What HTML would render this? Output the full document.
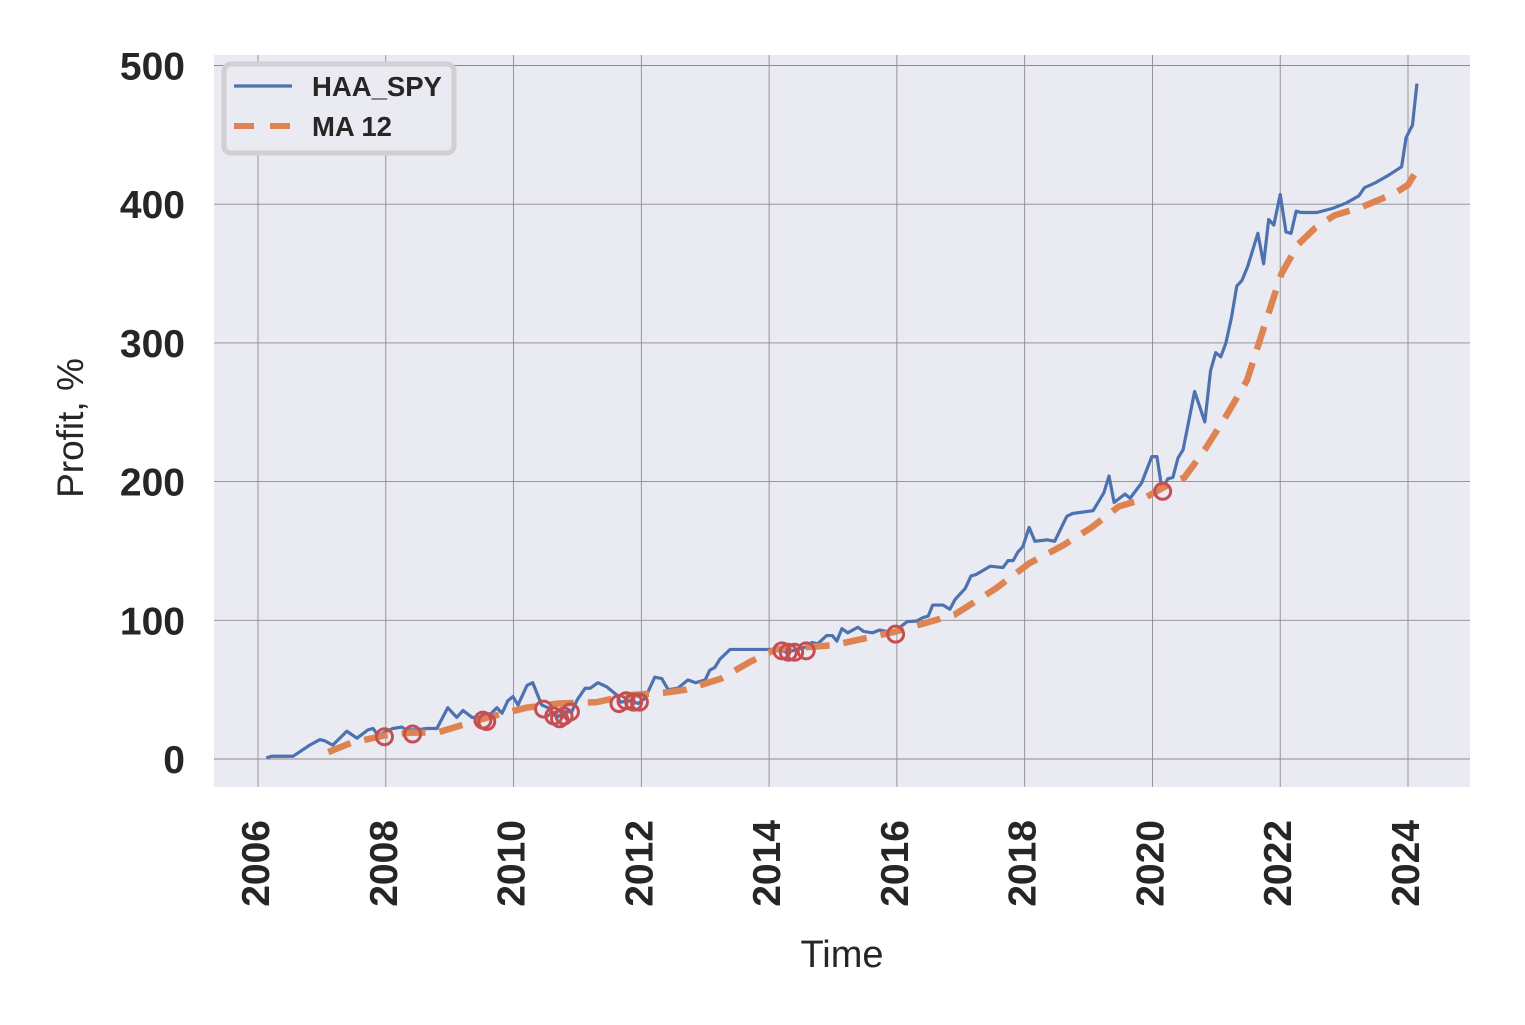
<!DOCTYPE html>
<html><head><meta charset="utf-8"><style>
html,body{margin:0;padding:0;background:#fff;}
svg{display:block;font-family:"Liberation Sans",Arial,sans-serif;}
</style></head><body>
<svg id="chart" width="1525" height="1025" viewBox="0 0 1525 1025">
<rect x="214" y="55" width="1256" height="732" fill="#eaeaf2"/>
<g id="grid"></g>
<g id="series"></g>
<g id="axes"></g>
<text x="83" y="428" font-size="37" fill="#262626" text-anchor="middle" transform="rotate(-90 83 428)">Profit, %</text>
<text x="842" y="967" font-size="38" fill="#262626" text-anchor="middle">Time</text>
<g>
<rect x="224" y="64" width="230" height="89" rx="7" fill="#eaeaf2" stroke="#d0d0d0" stroke-width="5"/>
<line x1="234" y1="86" x2="292" y2="86" stroke="#4c72b0" stroke-width="3.2"/>
<text x="312" y="96" font-size="27.5" font-weight="bold" fill="#262626">HAA_SPY</text>
<line x1="234" y1="126" x2="292" y2="126" stroke="#dd8452" stroke-width="6" stroke-dasharray="20 16"/>
<text x="312" y="136" font-size="27.5" font-weight="bold" fill="#262626">MA 12</text>
</g>
</svg>
<script>
const yTicks=[0,100,200,300,400,500];
const xTicks=[2006,2008,2010,2012,2014,2016,2018,2020,2022,2024];
const haaYears=[2006.13,2006.21,2006.55,2006.81,2006.97,2007.05,2007.17,2007.39,2007.55,2007.72,2007.8,2007.88,2008.11,2008.25,2008.33,2008.49,2008.64,2008.8,2008.97,2009.11,2009.21,2009.35,2009.52,2009.63,2009.74,2009.82,2009.91,2009.99,2010.07,2010.21,2010.3,2010.44,2010.54,2010.68,2010.8,2010.91,2011.0,2011.12,2011.2,2011.32,2011.46,2011.62,2011.67,2011.82,2011.95,2012.06,2012.21,2012.32,2012.42,2012.57,2012.73,2012.85,2013.0,2013.07,2013.15,2013.23,2013.39,2013.47,2014.12,2014.28,2014.59,2014.67,2014.76,2014.9,2014.99,2015.06,2015.14,2015.23,2015.39,2015.48,2015.62,2015.73,2015.94,2016.16,2016.31,2016.41,2016.49,2016.56,2016.72,2016.83,2016.91,2017.07,2017.16,2017.24,2017.46,2017.66,2017.74,2017.82,2017.89,2017.97,2018.07,2018.16,2018.35,2018.47,2018.66,2018.75,2019.07,2019.15,2019.24,2019.32,2019.4,2019.57,2019.65,2019.83,2019.99,2020.07,2020.15,2020.24,2020.32,2020.4,2020.48,2020.66,2020.82,2020.91,2020.99,2021.07,2021.15,2021.24,2021.32,2021.4,2021.49,2021.65,2021.74,2021.82,2021.9,2022.0,2022.09,2022.17,2022.25,2022.33,2022.57,2022.82,2023.04,2023.23,2023.32,2023.42,2023.51,2023.7,2023.9,2023.97,2024.07,2024.14];
const haaValues=[0.7,2,2,10,14,13,10,20,15,21,22,17,22,23,21,21,22,22,37,30,35,30,30,32,37,33,42,45,39,53,55,39,37,30,34,34,43,51,51,55,52,46,41,42,40,44,59,58,50,51,57,55,57,64,66,72,79,79,79,77,81,84,83,89,89,85,94,91,95,92,91,93,91,99,99.5,102,103,111,111,108,115,123,132,133,139,138,143,143,149,153,167,157,158,157,175,177,179,185,192,204,185,191,188,199,218,218,194,202,203,217,223,265,243,280,293,290,300,319,341,345,355,379,357,389,385,407,380,379,395,394,394,397,401,406,412,414,416,421,427,448,457,487];
const maYears=[2007.1,2007.45,2007.98,2008.4,2008.8,2009.6,2010.2,2010.7,2011.3,2011.8,2012.4,2012.7,2013.25,2013.7,2014.1,2015.0,2015.95,2016.9,2017.55,2018.07,2018.6,2019.05,2019.47,2019.83,2020.3,2020.5,2020.82,2021.15,2021.48,2021.8,2022.02,2022.28,2022.55,2022.85,2023.28,2023.8,2024.0,2024.2];
const maValues=[5,11.5,17,19,19,30,37,40,41,46,48,50,58,70,79,82,91.5,104,123,141,154,167,182,187,199,203,223,247,273,319,350,371,383,392,398,408,414,429];
const signalYears=[2007.98,2008.42,2009.52,2009.58,2010.47,2010.63,2010.72,2010.79,2010.89,2011.65,2011.76,2011.88,2011.97,2014.2,2014.3,2014.4,2014.58,2015.98,2020.16];
const signalValues=[16,18,28,27,36,31,29,31,34,40,42,41,41,78,77,77,78,90,193];

const NS="http://www.w3.org/2000/svg";
const X=y=>258+(y-2006)*(1150/18);
const Y=v=>759-v*1.387;
function mk(tag,attrs,parent){const e=document.createElementNS(NS,tag);for(const k in attrs)e.setAttribute(k,attrs[k]);parent.appendChild(e);return e;}
const grid=document.getElementById('grid'),axes=document.getElementById('axes'),series=document.getElementById('series');
yTicks.forEach(t=>{
  const l=mk('line',{x1:214,x2:1470,y1:Y(t),y2:Y(t),stroke:'#8c8c8c','stroke-width':0.9},grid);
  
  
  const tx=mk('text',{x:185,y:Y(t)+14,'font-size':39,'font-weight':'bold',fill:'#262626','text-anchor':'end'},axes);
  tx.textContent=t;
  
  
});
xTicks.forEach(t=>{
  const l=mk('line',{x1:X(t),x2:X(t),y1:55,y2:787,stroke:'#8c8c8c','stroke-width':0.9},grid);
  
  
  const xx=X(t)+11;
  const tx=mk('text',{x:xx,y:820,'font-size':39,'font-weight':'bold',fill:'#262626','text-anchor':'end',transform:`rotate(-90 ${xx} 820)`},axes);
  tx.textContent=t;
  
  
});
const hp=mk('polyline',{points:haaYears.map((y,i)=>X(y)+','+Y(haaValues[i])).join(' '),fill:'none',stroke:'#4c72b0','stroke-width':3.2,'stroke-linejoin':'round'},series);


const mp=mk('polyline',{points:maYears.map((y,i)=>X(y)+','+Y(maValues[i])).join(' '),fill:'none',stroke:'#dd8452','stroke-width':6.5,'stroke-dasharray':'24 14'},series);


signalYears.forEach((y,i)=>{
  const c=mk('circle',{cx:X(y),cy:Y(signalValues[i]),r:8,fill:'none',stroke:'#c44e52','stroke-width':3},series);
  
  
});
</script>
</body></html>
